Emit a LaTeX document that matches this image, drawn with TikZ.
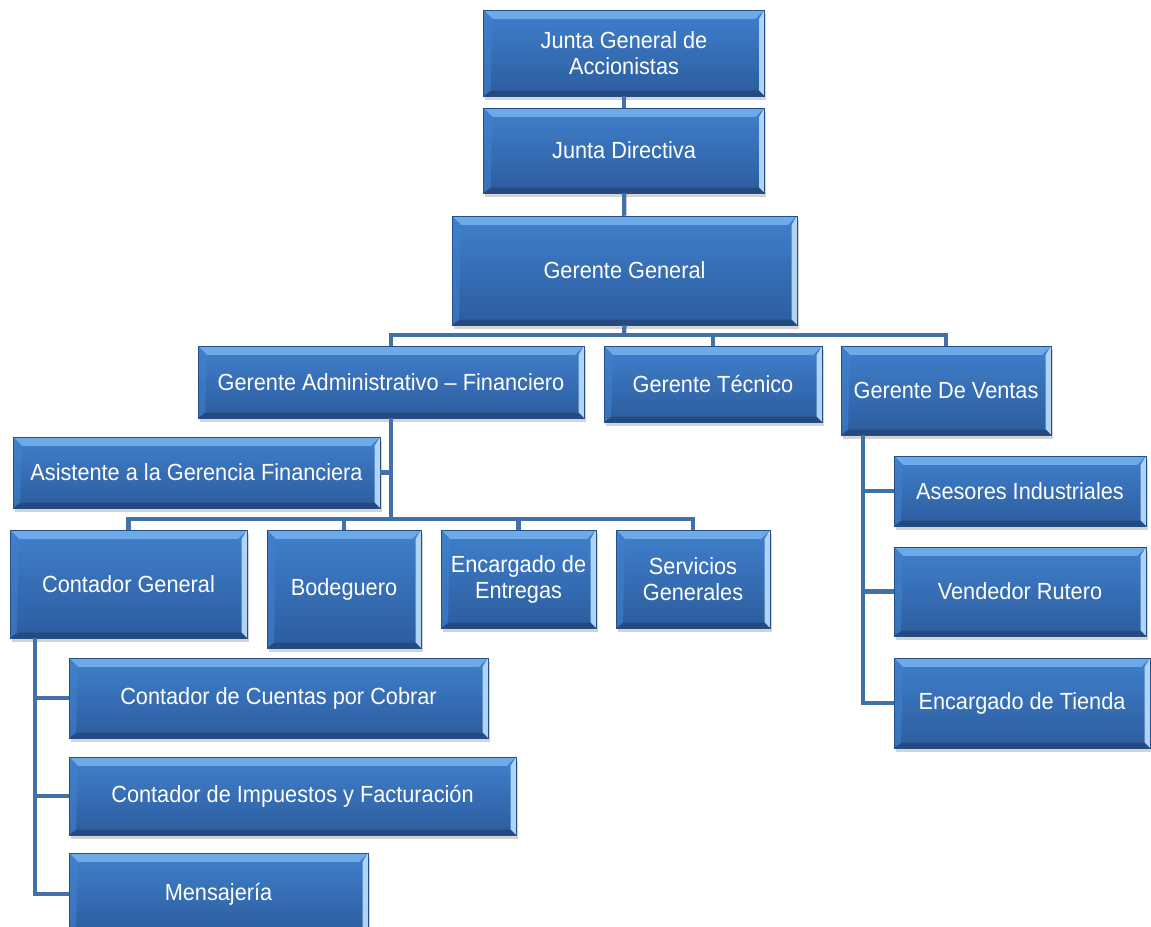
\documentclass[tikz,border=0pt]{standalone}
\usepackage{fontspec}
\setmainfont{Liberation Sans}[FakeStretch=0.93]
\usetikzlibrary{shadows}

\definecolor{boxtop}{RGB}{64,128,204}
\definecolor{boxbot}{RGB}{44,92,158}
\definecolor{boxedge}{RGB}{38,78,135}
\definecolor{bevlight}{RGB}{110,170,232}
\definecolor{bevside}{RGB}{175,212,245}
\definecolor{bevdark}{RGB}{36,74,128}
\definecolor{linkblue}{RGB}{66,112,168}

\tikzset{
	orgbox/.style={rectangle, draw=boxedge, line width=0.3pt, top color=boxtop, bottom color=boxbot,
		text=white, align=center, inner sep=0pt, font=\fontsize{13.3}{14.8}\selectfont,
		drop shadow={opacity=0.35, shadow xshift=1pt, shadow yshift=-2pt},
		path picture={
			\fill[bevlight] (path picture bounding box.north west) -- (path picture bounding box.north east)
				-- ([shift={(-5pt,-5pt)}]path picture bounding box.north east) -- ([shift={(5pt,-5pt)}]path picture bounding box.north west) -- cycle;
			\fill[bevside] (path picture bounding box.north east) -- (path picture bounding box.south east)
				-- ([shift={(-3pt,3pt)}]path picture bounding box.south east) -- ([shift={(-3pt,-5pt)}]path picture bounding box.north east) -- cycle;
			\fill[bevdark] (path picture bounding box.south west) -- (path picture bounding box.south east)
				-- ([shift={(-3pt,3pt)}]path picture bounding box.south east) -- ([shift={(4pt,3pt)}]path picture bounding box.south west) -- cycle;
			\fill[boxtop, opacity=0.6] (path picture bounding box.north west) -- (path picture bounding box.south west)
				-- ([shift={(4pt,3pt)}]path picture bounding box.south west) -- ([shift={(5pt,-5pt)}]path picture bounding box.north west) -- cycle;
		}},
	link/.style={draw=linkblue, line width=2.4pt}
}

\begin{document}
\begin{tikzpicture}[x=0.02cm, y=-0.02cm]

		\useasboundingbox (0,0) rectangle (1151,926);
		\clip (0,0) rectangle (1151,926);

		% top levels
		\node[orgbox, minimum width=5.62cm, minimum height=1.72cm] (jga) at (624,53) {Junta General de\\Accionistas};
		\node[orgbox, minimum width=5.62cm, minimum height=1.70cm] (jd) at (624,150.5) {Junta Directiva};
		\node[orgbox, minimum width=6.90cm, minimum height=2.18cm] (gg) at (624.5,270.5) {Gerente General};

		% gerencias
		\node[orgbox, minimum width=7.72cm, minimum height=1.44cm] (gaf) at (391,382) {Gerente Administrativo -- Financiero};
		\node[orgbox, minimum width=4.36cm, minimum height=1.52cm] (gt) at (713,384) {Gerente Técnico};
		\node[orgbox, minimum width=4.20cm, minimum height=1.78cm] (gv) at (946,390.5) {Gerente De Ventas};

		% area administrativa
		\node[orgbox, minimum width=7.34cm, minimum height=1.42cm] (agf) at (196.5,472.5) {Asistente a la Gerencia Financiera};
		\node[orgbox, minimum width=4.74cm, minimum height=2.16cm] (cg) at (128.5,584) {Contador General};
		\node[orgbox, minimum width=3.08cm, minimum height=2.36cm] (bod) at (344,589) {Bodeguero};
		\node[orgbox, minimum width=3.10cm, minimum height=1.96cm] (ee) at (518.5,579) {Encargado de\\Entregas};
		\node[orgbox, minimum width=3.08cm, minimum height=1.96cm] (sg) at (693,579) {Servicios\\Generales};

		\node[orgbox, minimum width=8.38cm, minimum height=1.60cm] (ccc) at (278.5,698) {Contador de Cuentas por Cobrar};
		\node[orgbox, minimum width=8.94cm, minimum height=1.56cm] (cif) at (292.5,796) {Contador de Impuestos y Facturación};
		\node[orgbox, minimum width=5.98cm, minimum height=1.64cm] (mens) at (218.5,894) {Mensajería};

		% ventas
		\node[orgbox, minimum width=5.04cm, minimum height=1.40cm] (ai) at (1020,491) {Asesores Industriales};
		\node[orgbox, minimum width=5.04cm, minimum height=1.78cm] (vr) at (1020,591.5) {Vendedor Rutero};
		\node[orgbox, minimum width=5.12cm, minimum height=1.80cm] (et) at (1022,703) {Encargado de Tienda};

		% connectors
		\coordinate (busgg) at (624,335);
		\coordinate (busgaf) at (391,519);
		\coordinate (cgtop) at (35,638);
		\coordinate (gvtop) at (863,435);

		\draw[link] (jga) -- (jd);
		\draw[link] (jd) -- (gg);
		\draw[link] (gg.south) -- (busgg);
		\foreach \n in {gaf,gt,gv}
		\draw[link] (busgg) -| (\n.north);

		\draw[link] (gaf.south) -- (busgaf);
		\draw[link] (agf.east) -- (agf.east -| busgaf);
		\foreach \n in {cg,bod,ee,sg}
		\draw[link] (busgaf) -| (\n.north);

		\foreach \n in {ccc,cif,mens}
		\draw[link] (cgtop) |- (\n.west);
		\foreach \n in {ai,vr,et}
		\draw[link] (gvtop) |- (\n.west);

		\end{tikzpicture}
\end{document}
